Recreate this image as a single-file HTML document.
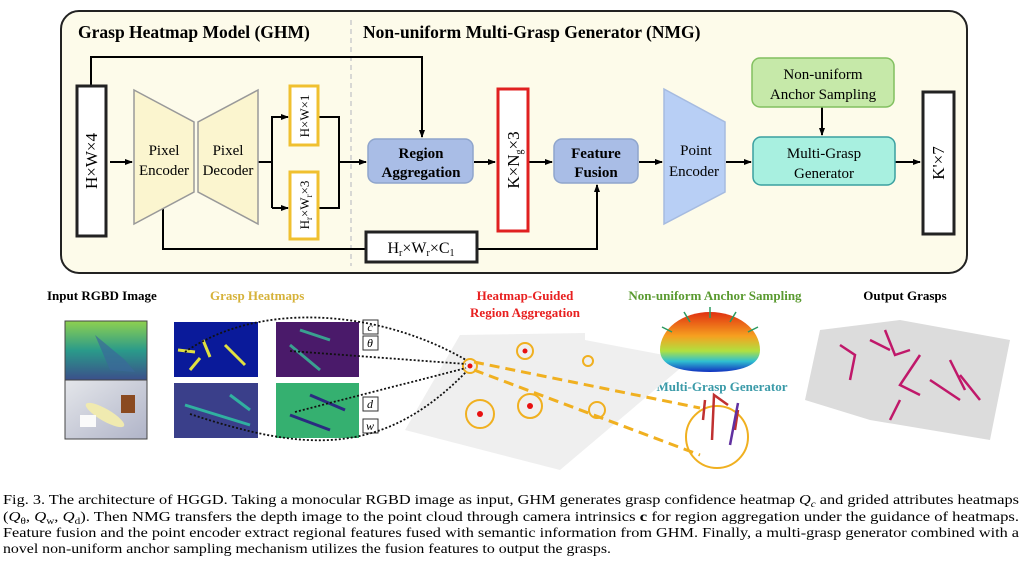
<!DOCTYPE html>
<html><head><meta charset="utf-8"><style>
html,body{margin:0;padding:0;background:#fff;}
svg{display:block;font-family:"Liberation Serif",serif;}
</style></head><body>
<svg width="1024" height="570" viewBox="0 0 1024 570" xmlns="http://www.w3.org/2000/svg">
<defs>
<marker id="a" markerWidth="8" markerHeight="8" refX="7" refY="4" orient="auto" markerUnits="userSpaceOnUse"><path d="M0,1 L8,4 L0,7 z" fill="#000"/></marker>
<linearGradient id="dep" x1="0" y1="0" x2="0" y2="1"><stop offset="0" stop-color="#8fd14f"/><stop offset="0.5" stop-color="#2a9a8a"/><stop offset="1" stop-color="#3b4f8a"/></linearGradient>
<linearGradient id="rgb" x1="0" y1="0" x2="1" y2="1"><stop offset="0" stop-color="#e4e6ea"/><stop offset="1" stop-color="#b0b4c8"/></linearGradient>
<linearGradient id="dome" x1="0" y1="0" x2="0" y2="1"><stop offset="0" stop-color="#e03010"/><stop offset="0.4" stop-color="#f6a020"/><stop offset="0.65" stop-color="#b0e040"/><stop offset="0.82" stop-color="#30c0d0"/><stop offset="1" stop-color="#1030c0"/></linearGradient>
</defs>
<rect x="61" y="11" width="906" height="262" rx="18" fill="#fdfbea" stroke="#222" stroke-width="2"/>
<line x1="351" y1="20" x2="351" y2="266" stroke="#ccc" stroke-width="1.5" stroke-dasharray="5,4"/>
<text x="78" y="38" font-size="17.5" font-weight="bold">Grasp Heatmap Model (GHM)</text>
<text x="363" y="38" font-size="17.5" font-weight="bold">Non-uniform Multi-Grasp Generator (NMG)</text>
<g stroke="#000" stroke-width="2" fill="none">
<polyline points="91,85 91,57 422,57 422,137" marker-end="url(#a)"/>
<line x1="110" y1="162" x2="132" y2="162" marker-end="url(#a)"/>
<polyline points="258,162 272,162"/>
<polyline points="272,208 272,117 288,117" marker-end="url(#a)"/>
<polyline points="272,208 288,208" marker-end="url(#a)"/>
<polyline points="319,117 339,117 339,208 319,208"/>
<line x1="339" y1="162" x2="366" y2="162" marker-end="url(#a)"/>
<line x1="474" y1="162" x2="495" y2="162" marker-end="url(#a)"/>
<line x1="528" y1="162" x2="552" y2="162" marker-end="url(#a)"/>
<polyline points="163,207 163,249 365,249"/>
<polyline points="477,249 597,249 597,185" marker-end="url(#a)"/>
<line x1="639" y1="162" x2="662" y2="162" marker-end="url(#a)"/>
<line x1="726" y1="162" x2="751" y2="162" marker-end="url(#a)"/>
<line x1="822" y1="107" x2="822" y2="135" marker-end="url(#a)"/>
<line x1="895" y1="162" x2="920" y2="162" marker-end="url(#a)"/>
</g>
<rect x="77" y="86" width="29" height="150" fill="#fff" stroke="#222" stroke-width="3"/>
<text transform="translate(97,161) rotate(-90)" text-anchor="middle" font-size="17">H×W×4</text>
<polygon points="134,90 194,122 194,192 134,224" fill="#fbf5cf" stroke="#999" stroke-width="1.5"/>
<polygon points="258,90 198,122 198,192 258,224" fill="#fbf5cf" stroke="#999" stroke-width="1.5"/>
<text x="164" y="155" font-size="15" text-anchor="middle">Pixel</text>
<text x="164" y="175" font-size="15" text-anchor="middle">Encoder</text>
<text x="228" y="155" font-size="15" text-anchor="middle">Pixel</text>
<text x="228" y="175" font-size="15" text-anchor="middle">Decoder</text>
<rect x="290" y="86" width="28" height="59" fill="#fff" stroke="#f0c030" stroke-width="3"/>
<text transform="translate(309,116) rotate(-90)" text-anchor="middle" font-size="13">H×W×1</text>
<rect x="290" y="172" width="28" height="67" fill="#fff" stroke="#f0c030" stroke-width="3"/>
<text transform="translate(309,205) rotate(-90)" text-anchor="middle" font-size="13">H<tspan font-size="9" dy="3">r</tspan><tspan dy="-3">×W</tspan><tspan font-size="9" dy="3">r</tspan><tspan dy="-3">×3</tspan></text>
<rect x="368" y="139" width="105" height="44" rx="8" fill="#a9bde6" stroke="#8fa5cc" stroke-width="1.5"/>
<text x="421" y="158" font-size="15" font-weight="bold" text-anchor="middle">Region</text>
<text x="421" y="177" font-size="15" font-weight="bold" text-anchor="middle">Aggregation</text>
<rect x="498" y="89" width="30" height="142" fill="#fff" stroke="#e02020" stroke-width="3"/>
<text transform="translate(519,160) rotate(-90)" text-anchor="middle" font-size="17">K×N<tspan font-size="10" dy="3">g</tspan><tspan dy="-3">×3</tspan></text>
<rect x="554" y="139" width="84" height="44" rx="8" fill="#a9bde6" stroke="#8fa5cc" stroke-width="1.5"/>
<text x="596" y="158" font-size="15" font-weight="bold" text-anchor="middle">Feature</text>
<text x="596" y="177" font-size="15" font-weight="bold" text-anchor="middle">Fusion</text>
<rect x="366" y="232" width="111" height="30" fill="#fff" stroke="#222" stroke-width="3"/>
<text x="421" y="253" font-size="16" text-anchor="middle">H<tspan font-size="10" dy="3">r</tspan><tspan dy="-3">×W</tspan><tspan font-size="10" dy="3">r</tspan><tspan dy="-3">×C</tspan><tspan font-size="10" dy="3">1</tspan></text>
<polygon points="664,89 725,122 725,192 664,224" fill="#b8cff5" stroke="#a6bbe0" stroke-width="1.5"/>
<text x="696" y="155" font-size="15" text-anchor="middle">Point</text>
<text x="694" y="176" font-size="15" text-anchor="middle">Encoder</text>
<rect x="752" y="58" width="142" height="49" rx="8" fill="#c6e9a9" stroke="#82c060" stroke-width="1.5"/>
<text x="823" y="79" font-size="15" text-anchor="middle">Non-uniform</text>
<text x="823" y="99" font-size="15" text-anchor="middle">Anchor Sampling</text>
<rect x="753" y="137" width="142" height="48" rx="8" fill="#a8f0e0" stroke="#3aa0a0" stroke-width="1.5"/>
<text x="824" y="158" font-size="15" text-anchor="middle">Multi-Grasp</text>
<text x="824" y="178" font-size="15" text-anchor="middle">Generator</text>
<rect x="923" y="92" width="31" height="142" fill="#fff" stroke="#222" stroke-width="3"/>
<text transform="translate(944,163) rotate(-90)" text-anchor="middle" font-size="17">K'×7</text>

<g font-size="13" font-weight="bold">
<text x="47" y="300">Input RGBD Image</text>
<text x="210" y="300" fill="#d6b23a">Grasp Heatmaps</text>
<text x="525" y="300" fill="#e82020" text-anchor="middle">Heatmap-Guided</text>
<text x="525" y="317" fill="#e82020" text-anchor="middle">Region Aggregation</text>
<text x="715" y="300" fill="#5a9a30" text-anchor="middle">Non-uniform Anchor Sampling</text>
<text x="905" y="300" text-anchor="middle">Output Grasps</text>
<text x="722" y="391" fill="#3a9aa8" text-anchor="middle">Multi-Grasp Generator</text>
</g>
<rect x="65" y="321" width="82" height="59" fill="url(#dep)" stroke="#444"/>
<rect x="65" y="380" width="82" height="59" fill="url(#rgb)" stroke="#444"/>
<path d="M95,335 L125,360 L135,372 L110,370 Z" fill="#3b6a9a" opacity="0.7"/>
<ellipse cx="105" cy="415" rx="22" ry="6" fill="#f0eab0" transform="rotate(30 105 415)"/>
<rect x="121" y="395" width="14" height="18" fill="#8a4a20"/>
<rect x="80" y="415" width="16" height="12" fill="#fafafa"/>
<rect x="174" y="322" width="84" height="55" fill="#0a1a9a"/>
<rect x="276" y="322" width="83" height="55" fill="#4a1a6a"/>
<rect x="174" y="383" width="84" height="55" fill="#3a3f8a"/>
<rect x="276" y="383" width="83" height="55" fill="#35b070"/>
<g stroke-width="3" fill="none">
<path d="M178,350 L195,352 M203,340 L210,357 M190,370 L200,358 M225,345 L245,365" stroke="#e0e040"/>
<path d="M290,345 L320,370 M300,330 L330,340" stroke="#3aa090"/>
<path d="M185,405 L250,425 M230,395 L250,410" stroke="#30b0a0"/>
<path d="M290,415 L330,430 M310,395 L345,410" stroke="#2a2a80"/>
</g>
<g font-size="12" font-style="italic" text-anchor="middle">
<rect x="363" y="320" width="15" height="14" fill="#fff" stroke="#333"/><text x="370" y="331">c</text>
<rect x="363" y="336" width="15" height="14" fill="#fff" stroke="#333"/><text x="370" y="347">θ</text>
<rect x="363" y="397" width="15" height="14" fill="#fff" stroke="#333"/><text x="370" y="408">d</text>
<rect x="363" y="419" width="15" height="14" fill="#fff" stroke="#333"/><text x="370" y="430">w</text>
</g>
<polygon points="460,335 585,333 585,340 690,360 560,470 405,430" fill="#efefef"/>
<polygon points="820,330 900,320 1010,340 990,440 870,420 805,400" fill="#dcdcdc"/>
<g stroke="#c0186a" stroke-width="2.5" fill="none">
<path d="M840,345 l15,10 l-5,25 M870,340 l20,10 M885,330 l10,25 l15,-5 M920,355 l-20,30 l20,10 M950,360 l15,30 M930,380 l30,20 M960,375 l20,25 M900,400 l-10,20"/>
</g>
<g stroke="#f0b020" stroke-width="2" fill="none">
<circle cx="470" cy="366" r="7"/><circle cx="525" cy="351" r="8"/><circle cx="588" cy="361" r="5"/>
<circle cx="480" cy="414" r="14"/><circle cx="530" cy="406" r="12"/><circle cx="597" cy="410" r="8"/>
<circle cx="717" cy="437" r="31"/>
</g>
<g fill="#e81010"><circle cx="525" cy="351" r="2.5"/><circle cx="480" cy="414" r="3"/><circle cx="530" cy="406" r="3"/><circle cx="470" cy="366" r="2.5"/></g>
<g stroke="#f0b020" stroke-width="3" stroke-dasharray="10,6" fill="none">
<line x1="474" y1="362" x2="700" y2="408"/><line x1="474" y1="370" x2="700" y2="455"/>
</g>
<g stroke="#c03030" stroke-width="2.5" fill="none"><path d="M703,420 L705,400 M712,440 L714,395 L728,405 M738,410 L735,430"/></g>
<path d="M738,403 L730,445" stroke="#6030a0" stroke-width="2.5"/>
<path d="M660,350 A50,38 0 0 1 760,350 Q760,372 710,372 Q660,372 660,350 Z" fill="url(#dome)"/>
<g stroke="#2a9a60" stroke-width="1.5">
<line x1="710" y1="318" x2="710" y2="307"/><line x1="690" y1="322" x2="684" y2="312"/><line x1="730" y1="322" x2="736" y2="312"/><line x1="672" y1="332" x2="662" y2="327"/><line x1="748" y1="332" x2="758" y2="327"/>
</g>
<g stroke="#111" stroke-width="1.8" stroke-dasharray="2,2" fill="none">
<path d="M185,352 C260,300 380,310 466,360"/>
<path d="M290,351 L466,364"/>
<path d="M295,412 C360,395 420,380 466,368"/>
<path d="M190,414 C300,450 380,460 466,372"/>
</g>
<g font-size="13.3">
<text x="3" y="504" textLength="1016" lengthAdjust="spacingAndGlyphs">Fig. 3.  The architecture of HGGD. Taking a monocular RGBD image as input, GHM generates grasp confidence heatmap <tspan font-style="italic">Q</tspan><tspan font-size="9" font-style="italic" dy="3">c</tspan><tspan dy="-3"> and grided attributes heatmaps</tspan></text>
<text x="3" y="521" textLength="1016" lengthAdjust="spacingAndGlyphs">(<tspan font-style="italic">Q</tspan><tspan font-size="9" dy="3">θ</tspan><tspan dy="-3">, </tspan><tspan font-style="italic">Q</tspan><tspan font-size="9" dy="3">w</tspan><tspan dy="-3">, </tspan><tspan font-style="italic">Q</tspan><tspan font-size="9" dy="3">d</tspan><tspan dy="-3">). Then NMG transfers the depth image to the point cloud through camera intrinsics </tspan><tspan font-weight="bold">c</tspan> for region aggregation under the guidance of heatmaps.</text>
<text x="3" y="537" textLength="1016" lengthAdjust="spacingAndGlyphs">Feature fusion and the point encoder extract regional features fused with semantic information from GHM. Finally, a multi-grasp generator combined with a</text>
<text x="3" y="553" textLength="608" lengthAdjust="spacingAndGlyphs">novel non-uniform anchor sampling mechanism utilizes the fusion features to output the grasps.</text>
</g>
</svg>
</body></html>
